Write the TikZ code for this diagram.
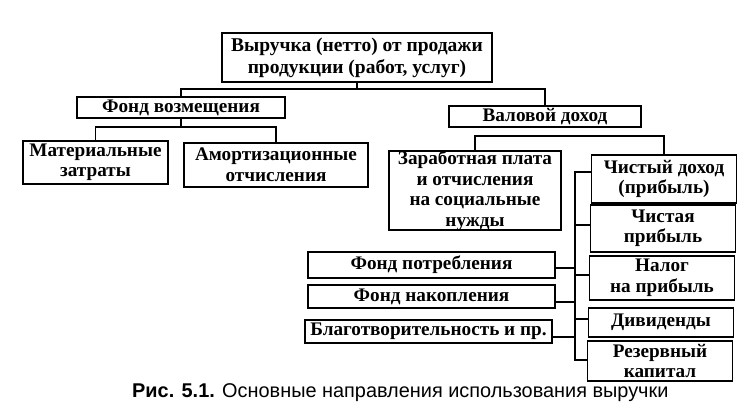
\documentclass[tikz,border=0pt]{standalone}
\usepackage{fontspec}
\setmainfont{Liberation Serif}
\newfontfamily\capfont{Liberation Sans}
\begin{document}
\begin{tikzpicture}[x=1pt,y=-1pt,
  box/.style={draw,line width=1.5pt,inner sep=0pt,align=center,font=\fontsize{19.2}{20.5}\selectfont\bfseries},
  conn/.style={line width=1.4pt}]
\useasboundingbox (0,0) rectangle (756,414);
% nodes
\node[box,minimum width=270,minimum height=49,font=\fontsize{19.5}{22}\selectfont\bfseries] (top) at (357,57.5) {Выручка (нетто) от продажи\\продукции (работ, услуг)};
\node[box,minimum width=208,minimum height=21] (fv) at (181,107.5) {Фонд возмещения};
\node[box,minimum width=145,minimum height=43] (mat) at (95.5,162.5) {Материальные\\затраты};
\node[box,minimum width=184,minimum height=44] (amo) at (276,165) {Амортизационные\\отчисления};
\node[box,minimum width=192,minimum height=21] (val) at (545,116.5) {Валовой доход};
\node[box,minimum width=172,minimum height=79] (zar) at (475,190.5) {Заработная плата\\и отчисления\\на социальные\\нужды};
\node[box,minimum width=145,minimum height=48] (chd) at (664,179) {Чистый доход\\(прибыль)};
\node[box,minimum width=145,minimum height=47] (chp) at (663,228.5) {Чистая\\прибыль};
\node[box,minimum width=145,minimum height=44] (nal) at (662,278) {Налог\\на прибыль};
\node[box,minimum width=145,minimum height=29] (div) at (661,322.5) {Дивиденды};
\node[box,minimum width=145,minimum height=40] (rez) at (660,361) {Резервный\\капитал};
\node[box,minimum width=247,minimum height=26] (fp) at (431.5,265) {Фонд потребления};
\node[box,minimum width=247,minimum height=23] (fn) at (431.5,296.5) {Фонд накопления};
\node[box,minimum width=247,minimum height=23] (bl) at (428.5,331.5) {Благотворительность и пр.};
% caption
\node[anchor=base west,inner sep=0pt,font=\capfont\fontsize{19.9}{22}\selectfont] (cap) at (132,398) {\textbf{Рис. 5.1.} Основные направления использования выручки};
% connectors
\coordinate (b1) at (357,89);
\draw[conn] (top.south) -- (b1);
\draw[conn] (fv.north) |- (b1) -| (val.north);
\coordinate (b2) at (181,127);
\draw[conn] (fv.south) -- (b2);
\draw[conn] (mat.north) |- (b2) -| (amo.north);
\coordinate (b3) at (545,136);
\draw[conn] (zar.north) |- (b3) -| (chd.north);
\coordinate (t1) at (575,172);
\coordinate (t2) at (575,225);
\coordinate (t3) at (575,275);
\coordinate (t4) at (575,319);
\coordinate (t5) at (575,360);
\draw[conn] (chd.west |- t1) -- (t1) -- (t5) -- (rez.west |- t5);
\draw[conn] (t2) -- (chp.west |- t2);
\draw[conn] (t3) -- (nal.west |- t3);
\draw[conn] (t4) -- (div.west |- t4);
\coordinate (s1) at (575,268);
\coordinate (s2) at (575,302);
\coordinate (s3) at (575,337);
\draw[conn] (fp.east |- s1) -- (s1);
\draw[conn] (fn.east |- s2) -- (s2);
\draw[conn] (bl.east |- s3) -- (s3);
\end{tikzpicture}
\end{document}
